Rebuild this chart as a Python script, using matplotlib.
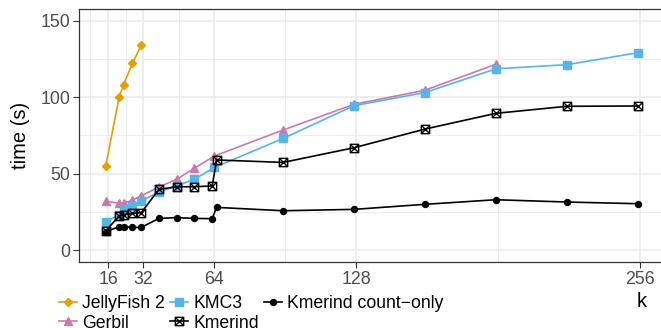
import matplotlib
matplotlib.use("Agg")
import matplotlib.pyplot as plt
from matplotlib.path import Path

plt.rcParams["font.family"] = ["Liberation Sans", "DejaVu Sans"]

# --- data ---
k_jelly = [15, 21, 23, 27, 31]
t_jelly = [55, 100, 108, 122, 134]

k_gerbil = [15, 21, 23, 27, 31, 39, 47, 55, 64, 95, 127, 159, 191]
t_gerbil = [31.8, 30.7, 30.7, 32.5, 35.5, 41.2, 46.3, 53.5, 61.5, 78.5, 95.3, 104.5, 121.5]

k_kmc3 = [15, 21, 23, 27, 31, 39, 47, 55, 64, 95, 127, 159, 191, 223, 255]
t_kmc3 = [18.5, 23, 26.6, 29, 32, 38, 42, 46.3, 54, 73, 94.4, 103, 118.5, 121.2, 129]

k_kmerind = [15, 21, 23, 27, 31, 39, 47, 55, 63, 65, 95, 127, 159, 191, 223, 255]
t_kmerind = [12.6, 22.2, 22.9, 24, 24.4, 39.7, 41.4, 41.4, 41.9, 58.9, 57.3, 66.9, 79.1, 89.4, 94, 94.2]
t_count = [12, 15.3, 15.3, 14.8, 14.8, 20.7, 21.2, 20.7, 20.5, 27.9, 25.7, 26.6, 29.9, 32.9, 31.4, 30.3]

x_ticks = [16, 32, 64, 128, 256]
x_minor = [8, 24, 48, 96, 192]
y_ticks = [0, 50, 100, 150]
y_minor = [25, 75, 125]

# square with a cross inside (ggplot shape 7)
sq_cross = Path(
    [(-1, -1), (1, -1), (1, 1), (-1, 1), (-1, -1), (-1, -1), (1, 1), (-1, 1), (1, -1)],
    [Path.MOVETO, Path.LINETO, Path.LINETO, Path.LINETO, Path.CLOSEPOLY,
     Path.MOVETO, Path.LINETO, Path.MOVETO, Path.LINETO],
)

fig = plt.figure(figsize=(6.61, 3.28), dpi=100)
ax = fig.add_axes([0.1198, 0.2027, 0.8853, 0.7693])

lw = 1.2
ax.plot(k_jelly, t_jelly, color="#E69F00", lw=lw, marker="D", ms=4.2, label="JellyFish 2")
ax.plot(k_gerbil, t_gerbil, color="#CC79A7", lw=lw, marker="^", ms=6, label="Gerbil")
ax.plot(k_kmc3, t_kmc3, color="#56B4E9", lw=lw, marker="s", ms=5.2, label="KMC3")
ax.plot(k_kmerind, t_kmerind, color="black", lw=lw, marker=sq_cross, ms=6,
        mfc="none", mec="black", mew=1.0, label="Kmerind")
ax.plot(k_kmerind, t_count, color="black", lw=lw, marker="o", ms=4.3, label="Kmerind count\u2212only")

ax.set_xlim(3, 267)
ax.set_ylim(-7.5, 157.5)
ax.set_xticks(x_ticks)
ax.set_xticks(x_minor, minor=True)
ax.set_yticks(y_ticks)
ax.set_yticks(y_minor, minor=True)

ax.grid(which="major", color="#EBEBEB", lw=1.2)
ax.grid(which="minor", color="#EBEBEB", lw=0.6)
ax.set_axisbelow(True)
ax.tick_params(which="minor", length=0)
ax.tick_params(which="major", length=4.3, width=0.8, color="#333333",
               labelcolor="#4D4D4D", labelsize=12.8, pad=2.2)
for s in ax.spines.values():
    s.set_color("#333333")
    s.set_linewidth(0.9)

fig.text(20 / 661, 1 - 135.4 / 328, "time (s)", rotation=90, ha="center", va="center", fontsize=14.5)
fig.text(641.7 / 661, 1 - 301.7 / 328, "k", ha="center", va="center", fontsize=14.5)

fig.legend(loc="upper left", bbox_to_anchor=(0.09, 0.10), ncol=3, frameon=False,
           fontsize=12.7, handlelength=1.0, handletextpad=0.28, columnspacing=0.32,
           labelspacing=0.14, borderpad=0, borderaxespad=0)

fig.savefig("out.png", dpi=100)
